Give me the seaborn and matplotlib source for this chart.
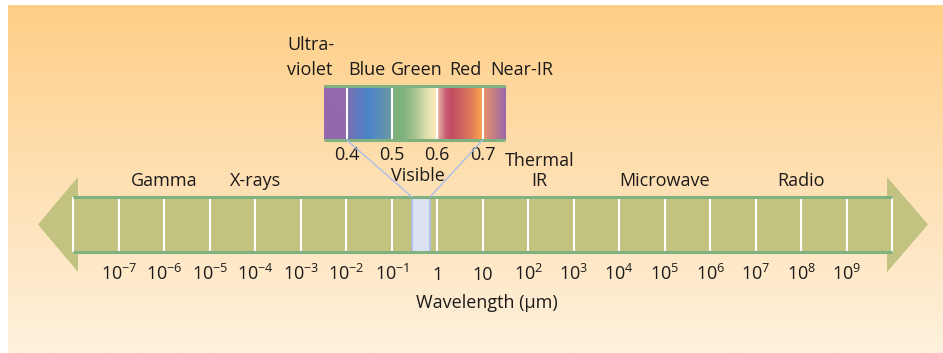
import numpy as np
import matplotlib
matplotlib.use("Agg")
import matplotlib.pyplot as plt
from matplotlib.colors import LinearSegmentedColormap, to_rgb
from matplotlib.patches import ConnectionPatch, Polygon
import seaborn as sns

# ---------------- data ----------------
decade_exponents = [-8, -7, -6, -5, -4, -3, -2, -1, 0, 1, 2, 3, 4, 5, 6, 7, 8, 9, 10]
tick_exponents = [-7, -6, -5, -4, -3, -2, -1, 0, 1, 2, 3, 4, 5, 6, 7, 8, 9]
tick_labels = [r"$\mathregular{10^{-7}}$", r"$\mathregular{10^{-6}}$", r"$\mathregular{10^{-5}}$",
               r"$\mathregular{10^{-4}}$", r"$\mathregular{10^{-3}}$", r"$\mathregular{10^{-2}}$",
               r"$\mathregular{10^{-1}}$", "1", "10", r"$\mathregular{10^{2}}$",
               r"$\mathregular{10^{3}}$", r"$\mathregular{10^{4}}$", r"$\mathregular{10^{5}}$",
               r"$\mathregular{10^{6}}$", r"$\mathregular{10^{7}}$", r"$\mathregular{10^{8}}$",
               r"$\mathregular{10^{9}}$"]
region_names = ["Gamma", "X-rays", "Microwave", "Radio"]
region_centers = [-6.0, -4.0, 5.0, 8.0]
thermal_ir_lines = ["Thermal", "IR"]
thermal_ir_center = 2.24
visible_band = [-0.555, -0.16]          # log10(µm)
visible_label_center = -0.42

spectrum_limits = [0.35, 0.75]          # µm
spectrum_ticks = [0.4, 0.5, 0.6, 0.7]
spectrum_tick_labels = ["0.4", "0.5", "0.6", "0.7"]
spectrum_wavelengths = [0.350, 0.399, 0.401, 0.447, 0.469, 0.497, 0.503, 0.525, 0.550,
                        0.572, 0.591, 0.600, 0.604, 0.620, 0.632, 0.653, 0.675, 0.695,
                        0.703, 0.727, 0.750]
spectrum_colors = ["#9468AC", "#9468AC", "#7870B4", "#4A84C8", "#5A8CBC", "#6C98A4",
                   "#7EB07C", "#80B27E", "#A8C490", "#D8DCA8", "#F8E8B8", "#F6D8B4",
                   "#E0A098", "#C85870", "#C04C60", "#CC6460", "#E07C58", "#F8A050",
                   "#E8906C", "#C07C88", "#9868A8"]
color_names = ["Blue", "Green", "Red", "Near-IR"]
color_name_centers = [0.445, 0.554, 0.663, 0.787]
uv_lines = ["Ultra-", "violet"]
uv_left = 0.269

# ---------------- style ----------------
sns.set_theme(style="white")
plt.rcParams["font.family"] = ["Open Sans", "DejaVu Sans"]
plt.rcParams["mathtext.fontset"] = "custom"
plt.rcParams["mathtext.rm"] = "Open Sans"
plt.rcParams["mathtext.it"] = "Open Sans:italic"
plt.rcParams["mathtext.bf"] = "Open Sans:bold"

TXT = "#1c1a1a"
BAR = "#C2C381"
GREEN = "#7FB27E"
FS = 13

W, H = 943, 353
fig = plt.figure(figsize=(W / 100, H / 100), dpi=100)
fig.patch.set_facecolor("white")


def px_axes(x0, y0, x1, y1, **kw):
    return fig.add_axes([x0 / W, 1 - y1 / H, (x1 - x0) / W, (y1 - y0) / H], **kw)


# background gradient
bg = px_axes(8, 5, W, H)
top = np.array(to_rgb("#FECF88"))
bot = np.array(to_rgb("#FFF1DD"))
t = np.linspace(0, 1, 256)[:, None]
grad = (top[None, :] * (1 - t) + bot[None, :] * t)[:, None, :]
bg.imshow(grad, aspect="auto", extent=[0, 1, 0, 1], origin="upper")
bg.set_axis_off()
bg.set_zorder(-5)

# ---------------- main spectrum bar ----------------
x_lo, x_hi = decade_exponents[0], decade_exponents[-1]
ax = px_axes(73.3, 197, 892.3, 252)
ax.set_facecolor("none")
ax.set_xlim(x_lo, x_hi)
ax.set_ylim(0, 1)
for s in ax.spines.values():
    s.set_visible(False)

# arrow heads
left_tip = x_lo - 0.776
right_tip = x_hi + 0.785
ax.add_patch(Polygon([[x_lo + 0.103, 1.364], [left_tip, 0.5], [x_lo + 0.103, -0.364]],
                     closed=True, facecolor=BAR, edgecolor="none", clip_on=False, zorder=1))
ax.add_patch(Polygon([[x_hi - 0.116, 1.364], [right_tip, 0.5], [x_hi - 0.116, -0.364]],
                     closed=True, facecolor=BAR, edgecolor="none", clip_on=False, zorder=1))

ax.fill_between([x_lo, x_hi], 0, 1, color=BAR, lw=0, zorder=2)
ax.vlines(decade_exponents, 0, 1, color="white", lw=1.5, clip_on=False, zorder=3)
ax.fill_between(visible_band, 0, 1, facecolor="#DCE2F4", edgecolor="#A9BCE6", lw=1.2, zorder=4)
ax.hlines([0, 1], x_lo, x_hi, color=GREEN, lw=2.2, clip_on=False, zorder=5)

ax.set_xticks(tick_exponents)
ax.set_xticklabels(tick_labels)
ax.tick_params(axis="x", length=0, pad=20.2, labelsize=FS, labelcolor=TXT)
ax.set_yticks([])
for lab in ax.get_xticklabels():
    lab.set_verticalalignment("baseline")

for name, cx in zip(region_names, region_centers):
    ax.text(cx, 1.2, name, ha="center", va="baseline", fontsize=FS, color=TXT)
ax.text(thermal_ir_center, 1.564, thermal_ir_lines[0], ha="center", va="baseline", fontsize=FS, color=TXT)
ax.text(thermal_ir_center, 1.2, thermal_ir_lines[1], ha="center", va="baseline", fontsize=FS, color=TXT)
ax.text(visible_label_center, 1.291, "Visible", ha="center", va="baseline", fontsize=FS, color=TXT, zorder=6)
ax.text(1.09, -1.018, "Wavelength (μm)", ha="center", va="baseline", fontsize=FS, color=TXT)

# ---------------- visible inset ----------------
ins = px_axes(324.05, 85.5, 505.25, 140)
ins.set_xlim(*spectrum_limits)
ins.set_ylim(0, 1)
for s in ins.spines.values():
    s.set_visible(False)
pos = [(w - spectrum_limits[0]) / (spectrum_limits[1] - spectrum_limits[0]) for w in spectrum_wavelengths]
cmap = LinearSegmentedColormap.from_list("vis", list(zip(pos, spectrum_colors)))
ins.imshow(np.linspace(0, 1, 400)[None, :], cmap=cmap, aspect="auto",
           extent=[spectrum_limits[0], spectrum_limits[1], 0, 1], zorder=1)
ins.vlines(spectrum_ticks, 0, 1, color="white", lw=1.5, zorder=2)
ins.hlines([0, 1], *spectrum_limits, color=GREEN, lw=2.2, clip_on=False, zorder=3)
ins.set_xticks(spectrum_ticks)
ins.set_xticklabels(spectrum_tick_labels)
ins.tick_params(axis="x", length=0, pad=14.4, labelsize=FS, labelcolor=TXT)
ins.set_yticks([])
for lab in ins.get_xticklabels():
    lab.set_verticalalignment("baseline")

for name, cx in zip(color_names, color_name_centers):
    ins.text(cx, 1.193, name, ha="center", va="baseline", fontsize=FS, color=TXT)
ins.text(uv_left, 1.651, uv_lines[0], ha="left", va="baseline", fontsize=FS, color=TXT)
ins.text(uv_left, 1.193, uv_lines[1], ha="left", va="baseline", fontsize=FS, color=TXT)

# connectors from the inset to the visible band
for wl, xb in [(spectrum_ticks[0], visible_band[0]), (spectrum_ticks[-1], visible_band[1])]:
    con = ConnectionPatch(xyA=(wl, 0), coordsA=ins.transData, xyB=(xb, 1), coordsB=ax.transData,
                          color="#A9BFE8", lw=1.0, zorder=0.5)
    fig.add_artist(con)

fig.savefig("out.png", dpi=100, facecolor="white")
